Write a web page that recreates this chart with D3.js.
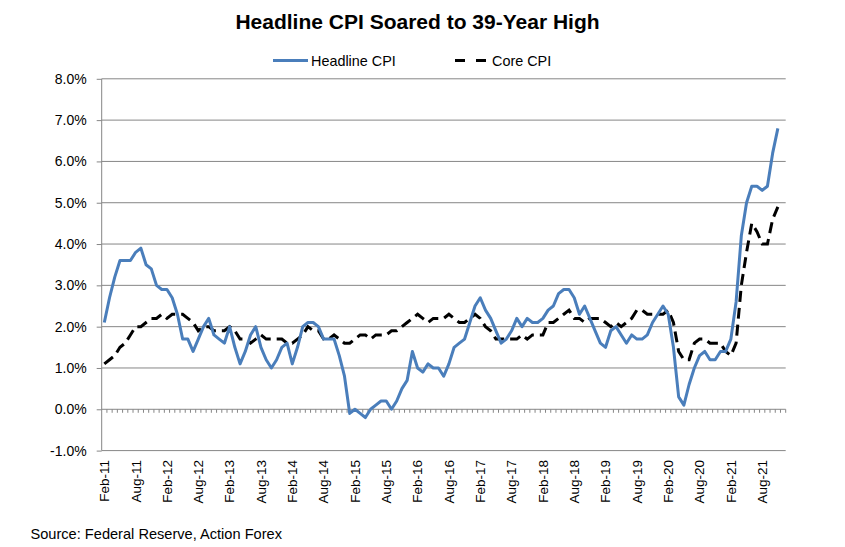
<!DOCTYPE html>
<html>
<head>
  <script src="https://d3js.org/d3.v7.min.js"></script>
  <style>
    body { margin: 0; background: #fff; }
    svg { display: block; font-family: "Liberation Sans", Arial, sans-serif; }
    .grid line { stroke: #868686; stroke-width: 1px; }
    .axis path, .axis line { stroke: #868686; }
    .axis text { font-size: 13.5px; fill: #000; }
  </style>
</head>
<body>
  <script>
    // monthly categories Feb-11 .. Dec-21 (Dec-21 is an empty slot)
    var monthNames = ["Jan","Feb","Mar","Apr","May","Jun","Jul","Aug","Sep","Oct","Nov","Dec"];
    var categories = [];
    for (var yr = 11; yr <= 21; yr++) {
      monthNames.forEach(function(m, i) {
        if (yr == 11 && i == 0) return;
        categories.push(m + "-" + yr);
      });
    }

    var tickLabels = ["Feb-11","Aug-11","Feb-12","Aug-12","Feb-13","Aug-13","Feb-14","Aug-14",
      "Feb-15","Aug-15","Feb-16","Aug-16","Feb-17","Aug-17","Feb-18","Aug-18",
      "Feb-19","Aug-19","Feb-20","Aug-20","Feb-21","Aug-21"];

    var yTicks = [-1, 0, 1, 2, 3, 4, 5, 6, 7, 8];

    // Headline CPI y/y %, Feb-11 .. Nov-21
    var headline = [
      2.1, 2.7, 3.2, 3.6, 3.6, 3.6, 3.8, 3.9, 3.5, 3.4, 3.0,
      2.9, 2.9, 2.7, 2.3, 1.7, 1.7, 1.4, 1.7, 2.0, 2.2, 1.8, 1.7,
      1.6, 2.0, 1.5, 1.1, 1.4, 1.8, 2.0, 1.5, 1.2, 1.0, 1.2, 1.5,
      1.6, 1.1, 1.5, 2.0, 2.1, 2.1, 2.0, 1.7, 1.7, 1.7, 1.3, 0.8,
      -0.1, 0.0, -0.1, -0.2, 0.0, 0.1, 0.2, 0.2, 0.0, 0.2, 0.5, 0.7,
      1.4, 1.0, 0.9, 1.1, 1.0, 1.0, 0.8, 1.1, 1.5, 1.6, 1.7, 2.1,
      2.5, 2.7, 2.4, 2.2, 1.9, 1.6, 1.7, 1.9, 2.2, 2.0, 2.2, 2.1,
      2.1, 2.2, 2.4, 2.5, 2.8, 2.9, 2.9, 2.7, 2.3, 2.5, 2.2, 1.9,
      1.6, 1.5, 1.9, 2.0, 1.8, 1.6, 1.8, 1.7, 1.7, 1.8, 2.1, 2.3,
      2.5, 2.3, 1.5, 0.3, 0.1, 0.6, 1.0, 1.3, 1.4, 1.2, 1.2, 1.4,
      1.4, 1.7, 2.6, 4.2, 5.0, 5.4, 5.4, 5.3, 5.4, 6.2, 6.8];

    // Core CPI y/y %, Feb-11 .. Nov-21
    var core = [
      1.1, 1.2, 1.3, 1.5, 1.6, 1.8, 2.0, 2.0, 2.1, 2.2, 2.2,
      2.3, 2.2, 2.3, 2.3, 2.3, 2.2, 2.1, 1.9, 2.0, 2.0, 1.9, 1.9,
      1.9, 2.0, 1.9, 1.7, 1.7, 1.6, 1.7, 1.8, 1.7, 1.7, 1.7, 1.7,
      1.6, 1.6, 1.7, 1.8, 2.0, 1.9, 1.9, 1.7, 1.7, 1.8, 1.7, 1.6,
      1.6, 1.7, 1.8, 1.8, 1.7, 1.8, 1.8, 1.8, 1.9, 1.9, 2.0, 2.1,
      2.2, 2.3, 2.2, 2.1, 2.2, 2.2, 2.2, 2.3, 2.2, 2.1, 2.1, 2.2,
      2.3, 2.2, 2.0, 1.9, 1.7, 1.7, 1.7, 1.7, 1.7, 1.8, 1.7, 1.8,
      1.8, 1.8, 2.1, 2.1, 2.2, 2.3, 2.4, 2.2, 2.2, 2.1, 2.2, 2.2,
      2.2, 2.1, 2.0, 2.1, 2.0, 2.1, 2.2, 2.4, 2.4, 2.3, 2.3, 2.3,
      2.3, 2.4, 2.1, 1.4, 1.2, 1.2, 1.6, 1.7, 1.7, 1.6, 1.6, 1.6,
      1.4, 1.3, 1.6, 3.0, 3.8, 4.5, 4.3, 4.0, 4.0, 4.6, 4.9];

    var width = 845, height = 547;
    var plotLeft = 101.7, plotRight = 785.7, plotTop = 78.8, plotBottom = 450.6;

    var svg = d3.select("body").append("svg")
        .attr("width", width)
        .attr("height", height);

    var x = d3.scaleBand()
        .domain(categories)
        .range([plotLeft, plotRight])
        .paddingInner(0).paddingOuter(0);
    var y = d3.scaleLinear()
        .domain([-1, 8])
        .range([plotBottom, plotTop]);
    var cx = function(i) { return x(categories[i]) + x.bandwidth() / 2; };

    // title
    svg.append("text")
        .attr("x", 417.5).attr("y", 29)
        .attr("text-anchor", "middle")
        .style("font-size", "21px").style("font-weight", "bold")
        .text("Headline CPI Soared to 39-Year High");

    // gridlines
    svg.append("g").attr("class", "grid")
      .selectAll("line").data(yTicks).enter().append("line")
        .attr("x1", plotLeft).attr("x2", plotRight)
        .attr("y1", function(d) { return y(d); })
        .attr("y2", function(d) { return y(d); });

    // y axis
    var yAxis = d3.axisLeft(y)
        .tickValues(yTicks)
        .tickSize(5)
        .tickPadding(10)
        .tickFormat(function(d) { return d.toFixed(1) + "%"; });
    svg.append("g")
        .attr("class", "axis")
        .attr("transform", "translate(" + plotLeft + ",0)")
        .call(yAxis)
        .call(function(g) {
          g.select(".domain").attr("d", "M0," + plotTop + "V" + plotBottom);
          g.selectAll("text").style("font-size", "14px");
        });

    // x axis at 0%: ticks between categories
    var zeroY = y(0);
    svg.append("g").attr("class", "axis")
      .selectAll("line").data(categories).enter().append("line")
        .attr("x1", function(d) { return x(d) + x.bandwidth(); })
        .attr("x2", function(d) { return x(d) + x.bandwidth(); })
        .attr("y1", zeroY).attr("y2", zeroY + 3.5);

    // x labels
    svg.append("g").attr("class", "axis")
      .selectAll("text").data(tickLabels).enter().append("text")
        .attr("transform", function(d) {
          return "translate(" + (x(d) + x.bandwidth() / 2) + ",460) rotate(-90)";
        })
        .attr("text-anchor", "end")
        .attr("dy", "0.36em")
        .text(function(d) { return d; });

    // series
    var line = d3.line()
        .x(function(d, i) { return cx(i); })
        .y(function(d) { return y(d); });

    svg.append("path")
        .datum(core)
        .attr("fill", "none")
        .attr("stroke", "#000")
        .attr("stroke-width", 3)
        .attr("stroke-dasharray", "11,6")
        .attr("d", line);

    svg.append("path")
        .datum(headline)
        .attr("fill", "none")
        .attr("stroke", "#4a7ebb")
        .attr("stroke-width", 3)
        .attr("stroke-linejoin", "round")
        .attr("d", line);

    // legend
    var lg = svg.append("g").style("font-size", "14.4px");
    lg.append("line").attr("x1", 273).attr("x2", 308).attr("y1", 60.5).attr("y2", 60.5)
        .attr("stroke", "#4a7ebb").attr("stroke-width", 3);
    lg.append("text").attr("x", 311).attr("y", 65.5).text("Headline CPI");
    lg.append("line").attr("x1", 455).attr("x2", 487).attr("y1", 60.5).attr("y2", 60.5)
        .attr("stroke", "#000").attr("stroke-width", 3).attr("stroke-dasharray", "10,11");
    lg.append("text").attr("x", 492).attr("y", 65.5).text("Core CPI");

    // source
    svg.append("text")
        .attr("x", 30.5).attr("y", 539)
        .style("font-size", "14.6px")
        .text("Source: Federal Reserve, Action Forex");
  </script>
</body>
</html>
